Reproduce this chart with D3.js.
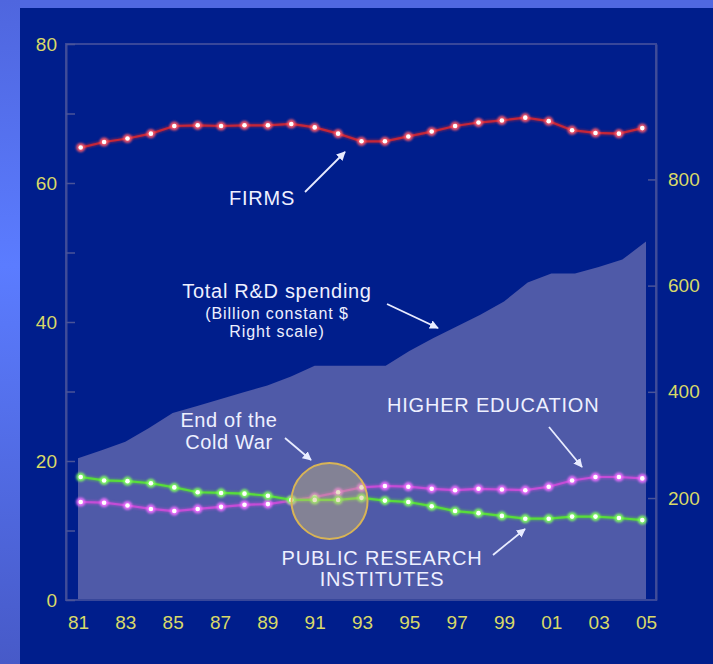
<!DOCTYPE html>
<html>
<head>
<meta charset="utf-8">
<script src="https://cdn.jsdelivr.net/npm/d3@7"></script>
<style>
  html, body { margin: 0; padding: 0; background: #5068e0; }
  svg { display: block; }
  text { font-family: "Liberation Sans", Arial, sans-serif; }
</style>
</head>
<body>
<svg id="chart" width="713" height="664"></svg>
<script>
// Years shown on the horizontal axis
const years = [1981, 1982, 1983, 1984, 1985, 1986, 1987, 1988, 1989, 1990,
               1991, 1992, 1993, 1994, 1995, 1996, 1997, 1998, 1999, 2000,
               2001, 2002, 2003, 2004, 2005];
const yearLabels = [1981, 1983, 1985, 1987, 1989, 1991, 1993, 1995, 1997, 1999, 2001, 2003, 2005];

// Share of R&D performed (%, left scale)
const firms = [65.1, 65.9, 66.4, 67.1, 68.2, 68.3, 68.2, 68.3, 68.3, 68.5,
               68.0, 67.1, 66.0, 66.0, 66.7, 67.4, 68.2, 68.7, 69.0, 69.4,
               68.9, 67.6, 67.2, 67.1, 67.9];
const higherEducation = [14.1, 14.0, 13.6, 13.1, 12.8, 13.1, 13.4, 13.7, 13.8, 14.3,
                         14.8, 15.5, 16.2, 16.4, 16.3, 16.0, 15.8, 16.0, 15.9, 15.8,
                         16.3, 17.2, 17.7, 17.7, 17.5];
const publicInstitutes = [17.7, 17.2, 17.1, 16.8, 16.2, 15.5, 15.4, 15.3, 15.0, 14.4,
                          14.4, 14.4, 14.7, 14.3, 14.1, 13.5, 12.8, 12.5, 12.1, 11.7,
                          11.7, 12.0, 12.0, 11.8, 11.5];

// Total R&D spending, billion constant $ (right scale)
const totalRD = [275, 290, 306, 332, 360, 373, 386, 399, 412, 429,
                 449, 449, 449, 449, 477, 501, 523, 545, 570, 606,
                 623, 623, 635, 649, 683];

const leftTicks = [0, 10, 20, 30, 40, 50, 60, 70, 80];
const rightTicks = [200, 400, 600, 800];

const svg = d3.select("#chart");
const W = 713, H = 664;

// Backdrop: light side strip and dark panel
const defs = svg.append("defs");
const strip = defs.append("linearGradient").attr("id", "strip")
  .attr("x1", 0).attr("y1", 0).attr("x2", 0).attr("y2", 1);
strip.append("stop").attr("offset", "0%").attr("stop-color", "#4f66de");
strip.append("stop").attr("offset", "40%").attr("stop-color", "#5b7cff");
strip.append("stop").attr("offset", "100%").attr("stop-color", "#475ac8");
svg.append("rect").attr("width", W).attr("height", H).attr("fill", "#5068e0");
svg.append("rect").attr("x", 0).attr("y", 0).attr("width", 20).attr("height", H).attr("fill", "url(#strip)");
svg.append("rect").attr("x", 20).attr("y", 8).attr("width", W - 20).attr("height", H - 8).attr("fill", "#001e8c");

const glow = defs.append("filter").attr("id", "glow")
  .attr("x", "-20%").attr("y", "-20%").attr("width", "140%").attr("height", "140%");
glow.append("feGaussianBlur").attr("stdDeviation", 1.2);

const arrowHead = defs.append("marker").attr("id", "arrow")
  .attr("viewBox", "0 0 10 10").attr("refX", 9).attr("refY", 5)
  .attr("markerWidth", 5).attr("markerHeight", 5).attr("orient", "auto")
  .attr("markerUnits", "strokeWidth");
arrowHead.append("path").attr("d", "M0,0 L10,5 L0,10 z").attr("fill", "#e8ecff");

// Plot frame
const frameLeft = 66, frameRight = 656, frameTop = 44, frameBottom = 600;

const xArea = d3.scalePoint().domain(years).range([78, 646]);
const xLine = d3.scalePoint().domain(years).range([80.7, 642.3]);
const yLeft = d3.scaleLinear().domain([0, 80]).range([frameBottom, frameTop]);
const yRight = d3.scaleLinear().domain([8, 1055]).range([frameBottom, frameTop]);

// Total R&D area
svg.append("path")
  .datum(years.map((y, i) => ({ year: y, v: totalRD[i] })))
  .attr("fill", "#4f5aa8")
  .attr("d", d3.area()
    .x(d => xArea(d.year))
    .y0(frameBottom)
    .y1(d => yRight(d.v)));

// Frame
svg.append("rect")
  .attr("x", frameLeft).attr("y", frameTop)
  .attr("width", frameRight - frameLeft).attr("height", frameBottom - frameTop)
  .attr("fill", "none").attr("stroke", "#38479a").attr("stroke-width", 2);

// Axes
const tickColor = "#d9d968";
const gLeft = svg.append("g").attr("transform", `translate(${frameLeft},0)`)
  .call(d3.axisLeft(yLeft).tickValues(leftTicks)
    .tickFormat(d => d % 20 === 0 ? d : "")
    .tickSizeInner(-9).tickSizeOuter(0).tickPadding(9));
const gRight = svg.append("g").attr("transform", `translate(${frameRight},0)`)
  .call(d3.axisRight(yRight).tickValues(rightTicks)
    .tickSizeInner(-8).tickSizeOuter(0).tickPadding(12));
const gBottom = svg.append("g").attr("transform", `translate(0,${frameBottom})`)
  .call(d3.axisBottom(xArea).tickValues(yearLabels)
    .tickFormat(d => String(d).slice(2))
    .tickSize(0).tickPadding(16));

[gLeft, gRight, gBottom].forEach(g => {
  g.select(".domain").attr("stroke", "#404c98").attr("stroke-width", 2);
  g.selectAll(".tick line").attr("stroke", "#4a5498").attr("stroke-width", 1.5);
  g.selectAll(".tick text").attr("fill", tickColor)
    .style("font-family", "'Liberation Sans', Arial, sans-serif")
    .style("font-size", "19px");
});
gBottom.select(".domain").remove();

// Share lines with glowing markers
function drawSeries(values, color, halo) {
  const pts = years.map((y, i) => ({ year: y, v: values[i] }));
  const line = d3.line().x(d => xLine(d.year)).y(d => yLeft(d.v));
  const g = svg.append("g");
  g.append("path").datum(pts).attr("d", line)
    .attr("fill", "none").attr("stroke", color).attr("stroke-width", 4)
    .attr("opacity", 0.5).attr("filter", "url(#glow)");
  g.append("path").datum(pts).attr("d", line)
    .attr("fill", "none").attr("stroke", color).attr("stroke-width", 2.2);
  g.selectAll("circle.halo").data(pts).join("circle").attr("class", "halo")
    .attr("cx", d => xLine(d.year)).attr("cy", d => yLeft(d.v))
    .attr("r", 4.6).attr("fill", halo).attr("opacity", 0.9).attr("filter", "url(#glow)");
  g.selectAll("circle.dot").data(pts).join("circle").attr("class", "dot")
    .attr("cx", d => xLine(d.year)).attr("cy", d => yLeft(d.v))
    .attr("r", 2.3).attr("fill", "#ffffff");
}
drawSeries(firms, "#c42638", "#ff5a6a");
drawSeries(higherEducation, "#c44cd6", "#f070ff");
drawSeries(publicInstitutes, "#58dc3a", "#80ff60");

// End of the Cold War highlight
svg.append("circle").attr("cx", 329.5).attr("cy", 501).attr("r", 38)
  .attr("fill", "rgba(205,185,125,0.42)")
  .attr("stroke", "#d8b456").attr("stroke-width", 2);

// Annotations
const labelColor = "#eef0ff";
function label(x, y, txt, size, anchor, spacing) {
  svg.append("text").attr("x", x).attr("y", y).text(txt)
    .attr("fill", labelColor).attr("font-size", size)
    .attr("letter-spacing", spacing == null ? 0.8 : spacing)
    .attr("text-anchor", anchor || "middle");
}
function arrow(x1, y1, x2, y2) {
  svg.append("line").attr("x1", x1).attr("y1", y1).attr("x2", x2).attr("y2", y2)
    .attr("stroke", "#e8ecff").attr("stroke-width", 1.8)
    .attr("marker-end", "url(#arrow)");
}

label(262, 205, "FIRMS", 20);
arrow(305, 192, 345, 152);

label(277, 298, "Total R&D spending", 20, "middle", 0.7);
label(277, 319, "(Billion constant $", 16, "middle", 0.9);
label(277, 337, "Right scale)", 16, "middle", 0.9);
arrow(387, 304, 438, 328);

label(229, 427, "End of the", 20, "middle", 0.6);
label(229, 449, "Cold War", 20, "middle", 0.6);
arrow(285, 438, 311, 460);

label(387, 412, "HIGHER EDUCATION", 20, "start");
arrow(549, 427, 582, 467);

label(382, 565, "PUBLIC RESEARCH", 20);
label(382, 586, "INSTITUTES", 20);
arrow(493, 555, 525, 529);
</script>
</body>
</html>
